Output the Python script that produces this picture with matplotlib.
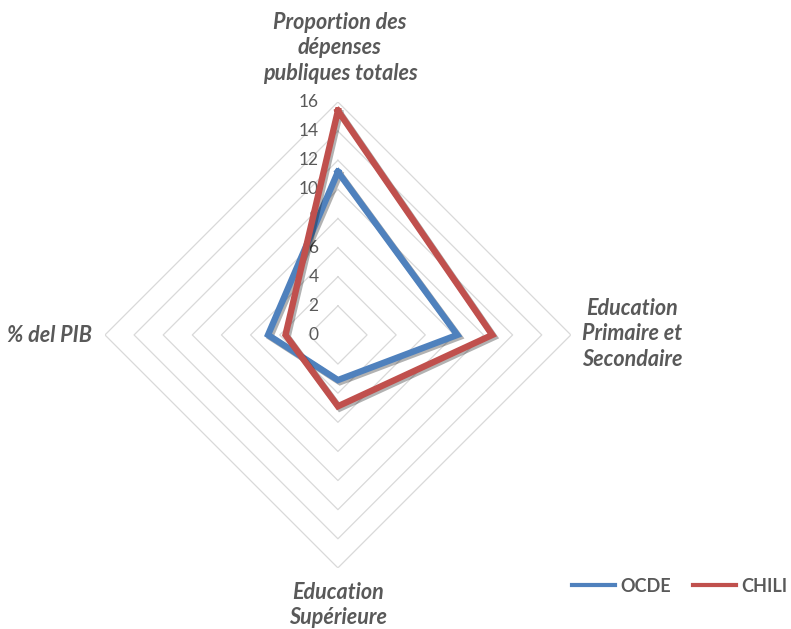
import numpy as np
import matplotlib
matplotlib.use('Agg')
import matplotlib.pyplot as plt
import matplotlib.patheffects as pe

plt.rcParams['font.family'] = ['Lato', 'DejaVu Sans']

categories = ['Proportion des\ndépenses\npubliques totales',
              'Education\nPrimaire et\nSecondaire',
              'Education\nSupérieure',
              '% del PIB']
ocde = [11.2, 8.2, 3.1, 4.8]
chili = [15.4, 10.6, 4.9, 3.6]
ticks = [0, 2, 4, 6, 8, 10, 12, 14, 16]

grey = '#595959'
fig = plt.figure(figsize=(7.91, 6.29), dpi=100)
ax = fig.add_axes([0.1327, 0.097, 0.589, 0.741], projection='polar')
ax.set_theta_offset(np.pi / 2)
ax.set_theta_direction(-1)
ax.set_ylim(0, 16)
ax.grid(False)
ax.spines['polar'].set_visible(False)
ax.set_xticks([])
ax.set_yticks([])

angles = np.linspace(0, 2 * np.pi, len(categories), endpoint=False)
ang_closed = np.append(angles, angles[0])

# diamond gridlines
for r in ticks[1:]:
    ax.plot(ang_closed, [r] * len(ang_closed), color='#d9d9d9', lw=0.9, zorder=1)

for r in ticks:
    ax.annotate(str(r), xy=(0, r), xytext=(-14, 0), textcoords='offset points',
                ha='right', va='center', color=grey, fontsize=12.5, zorder=2)

shadow = [pe.SimpleLineShadow(offset=(1.5, -1.5), shadow_color='k', alpha=0.3), pe.Normal()]
l1, = ax.plot(ang_closed, ocde + ocde[:1], color='#4F81BD', lw=4.6, label='OCDE',
              solid_joinstyle='miter', path_effects=shadow, zorder=3)
l2, = ax.plot(ang_closed, chili + chili[:1], color='#C0504D', lw=4.6, label='CHILI',
              solid_joinstyle='miter', path_effects=shadow, zorder=4)

lab_kw = dict(color=grey, fontsize=15.5, fontweight='bold', style='italic',
              linespacing=1.28)
fig.text(340 / 791, 1 - 48 / 629, categories[0], ha='center', va='center', **lab_kw)
fig.text(632 / 791, 1 - 334 / 629, categories[1], ha='center', va='center', **lab_kw)
fig.text(338 / 791, 1 - 605 / 629, categories[2], ha='center', va='center', **lab_kw)
fig.text(50 / 791, 1 - 335 / 629, categories[3], ha='center', va='center', **lab_kw)

fig.legend(handles=[l1, l2], loc='center left', bbox_to_anchor=(569 / 791, 1 - 586 / 629),
           ncol=2, frameon=False, prop={'size': 13, 'weight': 'bold'}, labelcolor=grey,
           handlelength=2.4, columnspacing=1.2, handletextpad=0.3, borderaxespad=0,
           borderpad=0.15)
for lh in fig.legends[0].get_lines():
    lh.set_linewidth(3)
    lh.set_path_effects([])

fig.savefig('out.png', dpi=100)
